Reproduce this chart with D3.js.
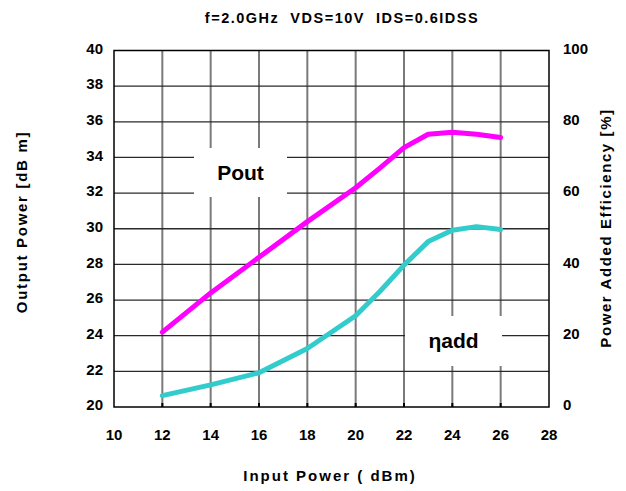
<!DOCTYPE html>
<html>
<head>
<meta charset="utf-8">
<script src="https://cdn.jsdelivr.net/npm/d3@7"></script>
<style>
  body { margin: 0; background: #fff; }
  text { font-family: "Liberation Sans", Arial, sans-serif; font-weight: bold; fill: #000; white-space: pre; }
</style>
</head>
<body>
<div id="chart"></div>
<script>
// input power (dBm) sample points
const inputPower = [12, 14, 16, 18, 20, 21, 22, 23, 24, 25, 26]
// output power (dBm)
const pout = [24.2, 26.4, 28.4, 30.4, 32.3, 33.4, 34.55, 35.3, 35.42, 35.3, 35.12]
// power added efficiency (%)
const etaAdd = [3.2, 6.2, 9.6, 16.4, 25.6, 32.4, 39.8, 46.4, 49.6, 50.6, 49.8]

const xTicks = [10, 12, 14, 16, 18, 20, 22, 24, 26, 28]
const leftTicks = [20, 22, 24, 26, 28, 30, 32, 34, 36, 38, 40]
const rightTicks = [0, 20, 40, 60, 80, 100]

const width = 626, height = 491
const margin = {left: 114, right: 77, top: 50.5, bottom: 84}

const svg = d3.select("#chart").append("svg")
  .attr("width", width)
  .attr("height", height)

const x = d3.scaleLinear().domain([10, 28]).range([margin.left, width - margin.right])
const yL = d3.scaleLinear().domain([20, 40]).range([height - margin.bottom, margin.top])
const yR = d3.scaleLinear().domain([0, 100]).range([height - margin.bottom, margin.top])

const x0 = x.range()[0], x1 = x.range()[1]
const y0 = yL.range()[0], y1 = yL.range()[1]

// grid
svg.append("g").selectAll("line")
  .data(xTicks.slice(1, -1))
  .join("line")
  .attr("x1", d => x(d)).attr("x2", d => x(d))
  .attr("y1", y1).attr("y2", y0)
  .attr("stroke", "#7a7a7a").attr("stroke-width", 2)

svg.append("g").selectAll("line")
  .data(leftTicks.slice(1, -1))
  .join("line")
  .attr("x1", x0).attr("x2", x1)
  .attr("y1", d => yL(d)).attr("y2", d => yL(d))
  .attr("stroke", "#2a2a2a").attr("stroke-width", 1.3)

// short black ticks along the bottom
svg.append("g").selectAll("line")
  .data(xTicks.slice(1, -1))
  .join("line")
  .attr("x1", d => x(d)).attr("x2", d => x(d))
  .attr("y1", y0).attr("y2", y0 - 4)
  .attr("stroke", "#000").attr("stroke-width", 2)

// label boxes blank out the grid
const labels = [
  {text: "Pout", x: 240.5, y: 172.5, w: 93, h: 49},
  {text: "\u03b7add", x: 453.5, y: 341, w: 97, h: 50}
]
svg.append("g").selectAll("rect")
  .data(labels)
  .join("rect")
  .attr("x", d => d.x - d.w / 2).attr("y", d => d.y - d.h / 2)
  .attr("width", d => d.w).attr("height", d => d.h)
  .attr("fill", "#fff")

// frame
svg.append("rect")
  .attr("x", x0).attr("y", y1)
  .attr("width", x1 - x0).attr("height", y0 - y1)
  .attr("fill", "none").attr("stroke", "#000").attr("stroke-width", 1.5)

// curves
const lineL = d3.line().x((d, i) => x(inputPower[i])).y(d => yL(d))
const lineR = d3.line().x((d, i) => x(inputPower[i])).y(d => yR(d))

svg.append("path")
  .attr("d", lineL(pout))
  .attr("fill", "none").attr("stroke", "#ff00ff").attr("stroke-width", 5)
  .attr("stroke-linejoin", "round").attr("stroke-linecap", "round")

svg.append("path")
  .attr("d", lineR(etaAdd))
  .attr("fill", "none").attr("stroke", "#33cccc").attr("stroke-width", 5)
  .attr("stroke-linejoin", "round").attr("stroke-linecap", "round")

// curve labels
svg.append("g").selectAll("text")
  .data(labels)
  .join("text")
  .attr("x", d => d.x).attr("y", d => d.y)
  .attr("dy", "0.35em")
  .attr("text-anchor", "middle")
  .attr("font-size", 21)
  .text(d => d.text)

// tick labels
svg.append("g").selectAll("text")
  .data(leftTicks)
  .join("text")
  .attr("x", 103).attr("y", d => yL(d) - 2)
  .attr("dy", "0.35em")
  .attr("text-anchor", "end")
  .attr("font-size", 15)
  .text(d => d)

svg.append("g").selectAll("text")
  .data(rightTicks)
  .join("text")
  .attr("x", 563).attr("y", d => yR(d) - 2)
  .attr("dy", "0.35em")
  .attr("text-anchor", "start")
  .attr("font-size", 15)
  .text(d => d)

svg.append("g").selectAll("text")
  .data(xTicks)
  .join("text")
  .attr("x", d => x(d)).attr("y", 435)
  .attr("dy", "0.35em")
  .attr("text-anchor", "middle")
  .attr("font-size", 15)
  .text(d => d)

// titles
svg.append("text")
  .attr("x", 342).attr("y", 18)
  .attr("dy", "0.35em")
  .attr("text-anchor", "middle")
  .attr("font-size", 14.5)
  .attr("letter-spacing", 1.5)
  .text("f=2.0GHz  VDS=10V  IDS=0.6IDSS")

svg.append("text")
  .attr("x", 330).attr("y", 476)
  .attr("dy", "0.35em")
  .attr("text-anchor", "middle")
  .attr("font-size", 15)
  .attr("letter-spacing", 2)
  .text("Input Power ( dBm)")

svg.append("text")
  .attr("transform", "translate(22,222) rotate(-90)")
  .attr("dy", "0.35em")
  .attr("text-anchor", "middle")
  .attr("font-size", 15)
  .attr("letter-spacing", 1.7)
  .text("Output Power [dB m]")

svg.append("text")
  .attr("transform", "translate(606,228) rotate(-90)")
  .attr("dy", "0.35em")
  .attr("text-anchor", "middle")
  .attr("font-size", 15)
  .attr("letter-spacing", 1.6)
  .text("Power Added Efficiency [%]")
</script>
</body>
</html>
